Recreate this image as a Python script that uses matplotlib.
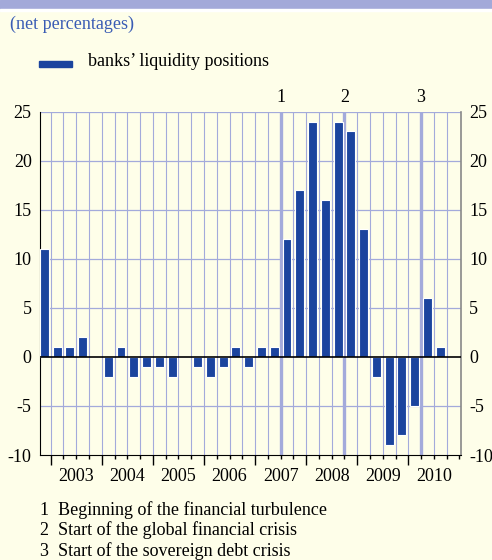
import numpy as np
import matplotlib.pyplot as plt
import matplotlib.transforms as mtransforms
from matplotlib.patches import Rectangle

# quarterly data, 2002 Q4 - 2010 Q4
quarters = ['2002Q4',
            '2003Q1', '2003Q2', '2003Q3', '2003Q4',
            '2004Q1', '2004Q2', '2004Q3', '2004Q4',
            '2005Q1', '2005Q2', '2005Q3', '2005Q4',
            '2006Q1', '2006Q2', '2006Q3', '2006Q4',
            '2007Q1', '2007Q2', '2007Q3', '2007Q4',
            '2008Q1', '2008Q2', '2008Q3', '2008Q4',
            '2009Q1', '2009Q2', '2009Q3', '2009Q4',
            '2010Q1', '2010Q2', '2010Q3', '2010Q4']
liquidity = [11,
             1, 1, 2, 0,
             -2, 1, -2, -1,
             -1, -2, 0, -1,
             -2, -1, 1, -1,
             1, 1, 12, 17,
             24, 16, 24, 23,
             13, -2, -9, -8,
             -5, 6, 1, 0]
years = ['2003', '2004', '2005', '2006', '2007', '2008', '2009', '2010']
events = ['2007Q3', '2008Q4', '2010Q2']  # quarter at whose start the event line sits
event_labels = ['1', '2', '3']
footnotes = ['1  Beginning of the financial turbulence',
             '2  Start of the global financial crisis',
             '3  Start of the sovereign debt crisis']

BG = '#fefee9'
GRID = '#a3aadb'
BAR = '#1b449e'
TITLE = '#3a5cb4'
FS = 13

plt.rcParams['font.family'] = ['Liberation Serif', 'DejaVu Serif']
plt.rcParams['font.size'] = FS
plt.rcParams['axes.unicode_minus'] = False

fig = plt.figure(figsize=(4.92, 5.60), dpi=100, facecolor=BG)
# top band
fig.patches.append(Rectangle((0, 1 - 9 / 560), 1, 9 / 560, transform=fig.transFigure,
                             color='#a3a9d9', zorder=0))
fig.patches.append(Rectangle((0, 1 - 11 / 560), 1, 2 / 560, transform=fig.transFigure,
                             color='white', zorder=0))

ax = fig.add_axes([40 / 492, 1 - 455 / 560, 420.7 / 492, (455 - 111.7) / 560])
ax.set_facecolor(BG)

x = np.arange(len(quarters))
ax.bar(x, liquidity, width=0.70, color=BAR, edgecolor='white', linewidth=0.8, zorder=3)

ax.set_xlim(-0.34, 32.6)
ax.set_ylim(-10, 25)

# grid
for y in range(-5, 26, 5):
    if y != 0:
        ax.axhline(y, color=GRID, lw=0.9, zorder=1)
bounds = x[1:] - 0.5
for b in bounds:
    ax.axvline(b, color=GRID, lw=0.8, zorder=1)
trans = mtransforms.blended_transform_factory(ax.transData, ax.transAxes)
for ev, lab in zip(events, event_labels):
    xe = quarters.index(ev) - 0.5
    ax.axvline(xe, color=GRID, lw=2.4, zorder=1)
    ax.text(xe, 1.04, lab, transform=trans, ha='center', va='center')
ax.axhline(0, color='black', lw=1.2, zorder=4)

# spines
ax.spines['top'].set_visible(False)
ax.spines['left'].set_color('black')
ax.spines['right'].set_color('#888888')
ax.spines['right'].set_linewidth(1.2)
ax.spines['bottom'].set_color('black')

# y ticks both sides
ax.set_yticks(range(-10, 26, 5))
ax.tick_params(axis='y', length=0, pad=6, labelleft=True, labelright=True)

# x ticks: year boundaries long, quarter boundaries short
year_bounds = [quarters.index(y + 'Q1') - 0.5 for y in years]
ax.set_xticks(year_bounds)
ax.set_xticks(list(bounds) + [32.5], minor=True)
ax.tick_params(axis='x', which='major', length=7, width=1, labelbottom=False)
ax.tick_params(axis='x', which='minor', length=3, width=1)
for yr in years:
    xc = quarters.index(yr + 'Q1') + 1.5
    ax.text(xc, -0.062, yr, transform=trans, ha='center', va='center')

# title, legend, footnotes
fig.text(10 / 492, 1 - 24 / 560, '(net percentages)', color=TITLE, ha='left', va='center')
fig.patches.append(Rectangle((39 / 492, 1 - 67 / 560), 33 / 492, 6 / 560,
                             transform=fig.transFigure, color=BAR))
fig.text(88 / 492, 1 - 62 / 560, 'banks\u2019 liquidity positions', ha='left', va='center')
for i, t in enumerate(footnotes):
    fig.text(40 / 492, 1 - (510 + 20.5 * i) / 560, t, ha='left', va='center')

fig.savefig('out.png', dpi=100, facecolor=BG)
